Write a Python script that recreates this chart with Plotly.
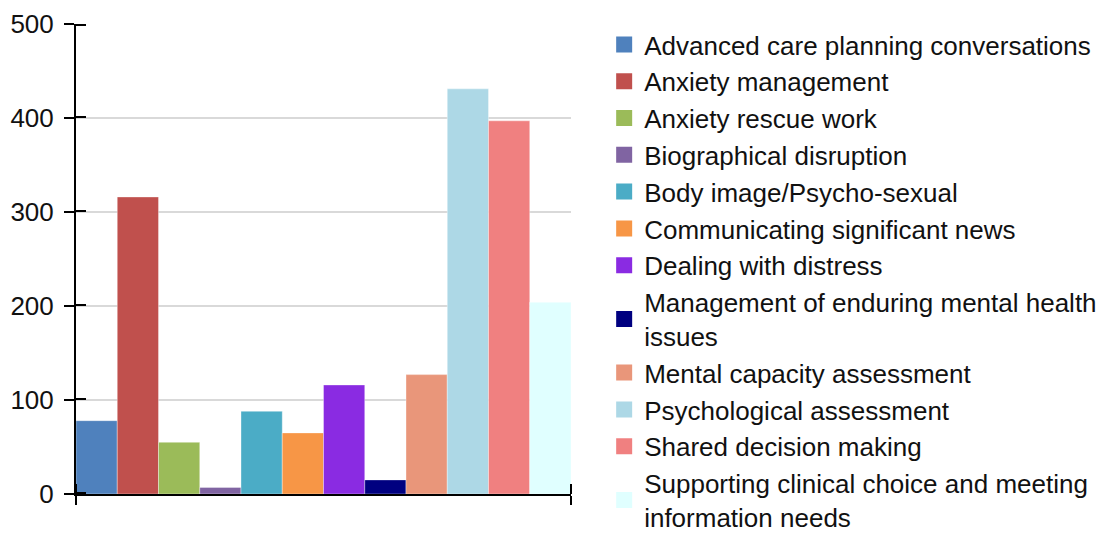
import plotly.graph_objects as go

categories = [
    "Advanced care planning conversations",
    "Anxiety management",
    "Anxiety rescue work",
    "Biographical disruption",
    "Body image/Psycho-sexual",
    "Communicating significant news",
    "Dealing with distress",
    "Management of enduring mental health<br>issues",
    "Mental capacity assessment",
    "Psychological assessment",
    "Shared decision making",
    "Supporting clinical choice and meeting<br>information needs",
]
counts = [78, 316, 55, 7, 88, 65, 116, 15, 127, 431, 397, 204]
colors = ["#4f81bd", "#c0504d", "#9bbb59", "#8064a2", "#4bacc6", "#f79646",
          "#8a2be2", "#000080", "#e9967a", "#add8e6", "#f08080", "#e0ffff"]
y_ticks = [0, 100, 200, 300, 400, 500]

font = "Liberation Sans, Arial, sans-serif"
x_edges = [-0.5, len(categories) - 0.5]

fig = go.Figure()
fig.add_trace(go.Bar(
    x=list(range(len(categories))),
    y=counts,
    width=1,
    marker=dict(color=colors, line=dict(width=0.6, color="rgba(255,255,255,0.6)")),
    showlegend=False,
    hoverinfo="y",
))

# legend entries (bigger square swatches than the default bar icon)
for name, c in zip(categories, colors):
    fig.add_trace(go.Scatter(
        x=[None], y=[None], mode="markers", name=name, legendgroup=name,
        marker=dict(symbol="square", size=16, color=c),
    ))

# minor ticks pointing inwards, nudged a hair so they aren't merged with the
# major ones -> ticks that cross the axis line like the original
tick_style = dict(ticks="inside", ticklen=10, tickwidth=2, tickcolor="black",
                  showgrid=False)
y_minor = [v + 1 if v < max(y_ticks) else v - 1 for v in y_ticks]

# page body has an 8px margin, so the figure is nudged up/left to compensate
fig.update_layout(
    width=1114, height=533,
    margin=dict(l=68, r=551, t=16, b=47),
    paper_bgcolor="white", plot_bgcolor="white",
    font=dict(family=font, size=26, color="#111111"),
    showlegend=True,
    legend=dict(x=1.067, xanchor="left", y=0.96, yanchor="top",
                font=dict(size=26, color="#111111"), tracegroupgap=0,
                itemsizing="trace", maxheight=700),
    xaxis=dict(range=x_edges, tickvals=x_edges, showticklabels=False,
               ticks="outside", ticklen=9, tickwidth=2, tickcolor="black",
               showline=True, linecolor="black", linewidth=2, automargin=False,
               showgrid=True, gridcolor="#d9d9d9", gridwidth=2, zeroline=False,
               minor=dict(tickvals=[x_edges[0] + 0.004, x_edges[1] - 0.004],
                          **tick_style)),
    yaxis=dict(range=[0, 500], tickvals=y_ticks, ticks="outside", ticklen=10,
               tickwidth=2, tickcolor="black", showline=True, linecolor="black",
               linewidth=2, showgrid=True, gridcolor="#d9d9d9", gridwidth=2,
               zeroline=False, automargin=False, ticklabelstandoff=5,
               tickfont=dict(size=26, color="#111111"),
               minor=dict(tickvals=y_minor, **tick_style)),
)

fig.write_html("out.html")
